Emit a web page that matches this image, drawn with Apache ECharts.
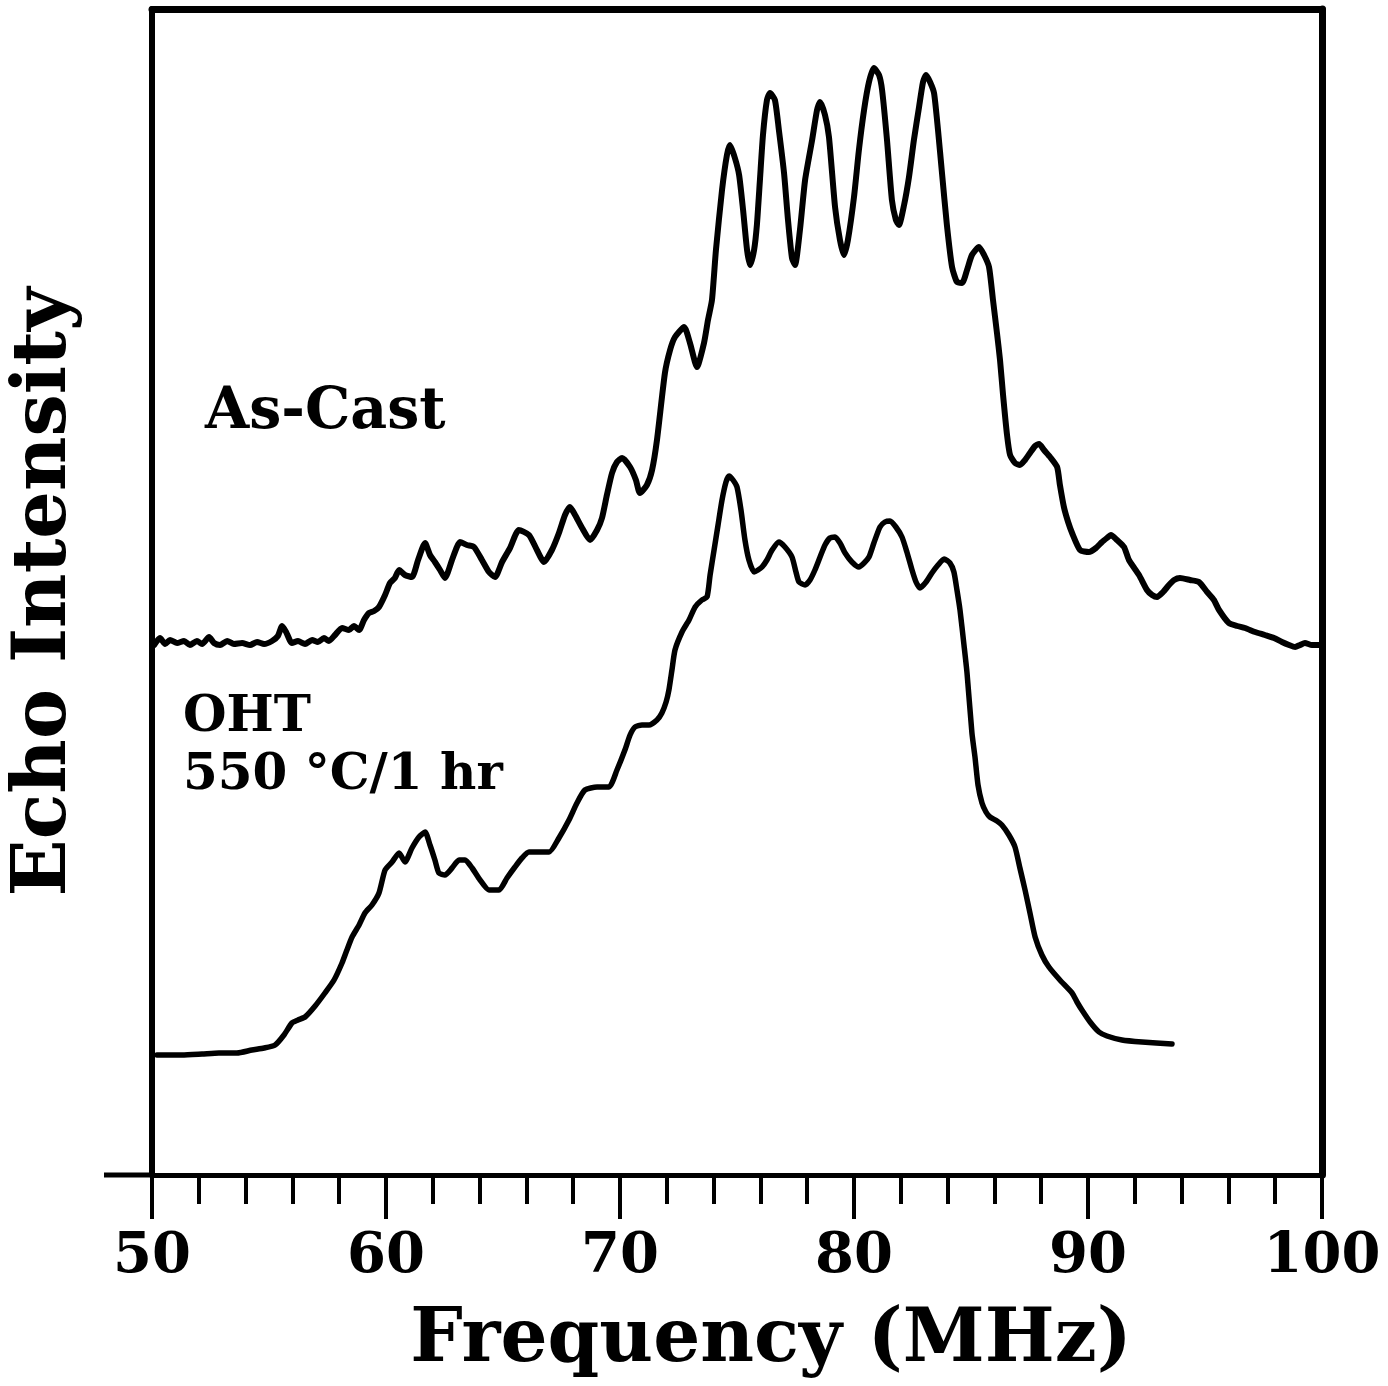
<!DOCTYPE html>
<html>
<head>
<meta charset="utf-8">
<script src="https://cdn.jsdelivr.net/npm/echarts@6/dist/echarts.min.js"></script>
<style>
html,body{margin:0;padding:0;background:#fff;}
#chart{width:1388px;height:1386px;}
</style>
</head>
<body>
<div id="chart"></div>
<script>
// Frequency in MHz, intensity in arbitrary units (axis from 0 at the bottom frame)
const asCastFreq = [50.09,50.34,50.56,50.77,51.07,51.37,51.62,51.92,52.14,52.44,52.65,52.91,53.21,53.50,53.85,54.19,54.49,54.79,55.13,55.38,55.56,55.73,55.98,56.24,56.54,56.84,57.09,57.35,57.56,57.82,58.12,58.42,58.63,58.85,59.06,59.27,59.49,59.70,59.96,60.17,60.38,60.56,60.81,61.11,61.37,61.67,61.88,62.09,62.31,62.52,62.82,63.03,63.16,63.46,63.76,64.10,64.40,64.66,64.96,65.30,65.68,66.11,66.45,66.75,67.09,67.39,67.65,67.86,68.08,68.38,68.72,69.02,69.23,69.44,69.66,69.87,70.09,70.43,70.68,70.85,71.15,71.37,71.58,71.92,72.14,72.35,72.74,72.99,73.29,73.59,73.76,73.93,74.10,74.36,74.57,74.70,74.91,75.09,75.26,75.43,75.56,75.73,75.85,75.98,76.11,76.28,76.41,76.62,76.79,77.01,77.18,77.35,77.48,77.69,77.91,78.21,78.42,78.55,78.76,78.93,79.19,79.40,79.57,79.74,80.00,80.21,80.43,80.64,80.85,81.07,81.20,81.41,81.62,81.79,81.92,82.14,82.35,82.56,82.78,82.95,83.08,83.25,83.42,83.59,83.76,83.97,84.19,84.40,84.62,84.83,85.04,85.34,85.56,85.77,85.94,86.11,86.24,86.37,86.54,86.67,86.88,87.09,87.31,87.52,87.74,87.91,88.12,88.38,88.68,88.80,88.97,89.15,89.32,89.66,90.04,90.34,90.60,90.81,90.98,91.24,91.54,91.75,92.18,92.52,92.74,92.95,93.21,93.46,93.68,93.93,94.36,94.74,95.09,95.38,95.60,96.02,96.37,96.71,97.14,97.56,97.95,98.29,98.59,98.85,99.06,99.27,99.57,99.91];
const asCastIntensity = [530,537,531,535,532,534,530,534,531,538,532,530,534,531,532,530,533,531,534,539,549,543,532,534,531,535,533,537,534,540,547,545,549,545,555,562,564,568,580,592,597,605,600,598,615,632,620,613,605,597,615,628,633,630,628,615,603,598,613,627,645,640,625,613,625,642,660,668,660,647,635,645,657,680,702,713,717,708,695,682,690,705,735,802,825,838,848,832,808,832,855,875,925,985,1020,1030,1017,1000,965,925,910,925,950,995,1040,1075,1082,1075,1045,1002,955,917,910,945,995,1035,1065,1073,1060,1038,968,935,920,935,978,1025,1065,1093,1107,1100,1085,1035,975,955,950,970,998,1035,1068,1093,1100,1093,1082,1045,1002,950,908,893,892,905,920,928,920,908,875,842,815,780,740,720,712,710,715,722,729,731,725,718,708,690,668,653,642,625,623,627,633,637,640,635,628,615,600,585,580,578,583,590,595,597,595,593,583,575,565,552,549,547,543,540,537,533,530,528,530,532,530,530];

const ohtFreq = [50.21,51.28,52.14,52.86,53.63,54.27,54.79,55.26,55.64,55.98,56.24,56.54,56.97,57.39,57.78,58.12,58.33,58.55,58.85,59.10,59.40,59.70,59.96,60.26,60.56,60.81,61.11,61.41,61.67,61.88,62.09,62.26,62.52,62.82,63.12,63.38,63.68,64.02,64.40,64.83,65.17,65.51,65.81,66.11,66.54,66.97,67.39,67.82,68.16,68.50,69.02,69.53,69.87,70.21,70.43,70.64,70.94,71.24,71.58,71.79,71.97,72.09,72.22,72.35,72.65,72.95,73.21,73.50,73.72,73.85,74.02,74.19,74.36,74.53,74.66,74.83,75.00,75.17,75.34,75.51,75.73,75.90,76.07,76.28,76.50,76.79,77.05,77.35,77.52,77.65,77.91,78.12,78.33,78.55,78.76,78.97,79.19,79.40,79.62,79.91,80.21,80.43,80.64,80.85,81.11,81.32,81.54,81.79,82.05,82.26,82.48,82.65,82.82,83.08,83.33,83.59,83.85,84.10,84.27,84.40,84.53,84.70,84.83,85.04,85.17,85.30,85.47,85.64,85.81,86.11,86.32,86.62,86.88,87.09,87.31,87.52,87.74,88.03,88.33,88.80,89.32,89.53,89.74,90.09,90.47,90.81,91.45,92.31,93.59];
const ohtIntensity = [120,120,121,122,122,125,127,130,140,152,155,158,169,182,195,212,225,238,250,262,270,282,305,313,322,313,327,338,343,330,315,302,300,307,315,315,307,295,285,285,297,308,317,323,323,323,337,355,372,385,388,388,405,425,440,448,450,450,455,462,473,485,505,525,543,555,568,575,578,600,625,650,675,693,699,695,688,665,635,615,603,605,608,615,625,633,628,618,603,593,590,595,605,618,630,637,638,632,622,613,608,612,618,632,648,653,654,648,638,623,605,593,587,593,602,610,616,612,603,585,565,530,502,442,418,390,372,363,358,354,350,340,328,307,285,262,238,220,208,195,182,173,165,153,143,139,135,133,131];

const xMin = 50, xMax = 100, xMajor = 10, xMinor = 2;
const tickLabels = ['50','60','70','80','90','100'];
const seriesNames = ['As-Cast', 'OHT 550 °C/1 hr'];

const FONT = '"DejaVu Serif", serif';
const chart = echarts.init(document.getElementById('chart'), null, {renderer: 'canvas'});

function majorLabel(v) {
  const k = (v - xMin) / xMajor;
  const i = Math.round(k);
  return Math.abs(k - i) < 1e-6 && tickLabels[i] !== undefined ? tickLabels[i] : '';
}

const option = {
  animation: false,
  backgroundColor: '#ffffff',
  grid: {left: 152, right: 66, top: 9, bottom: 211, containLabel: false, outerBoundsMode: 'none'},
  xAxis: [{
    // bottom axis: short ticks every 2 MHz, labels every 10 MHz
    type: 'value', min: xMin, max: xMax, interval: xMinor, position: 'bottom',
    axisLine: {show: true, onZero: false, lineStyle: {color: '#000', width: 5}},
    axisTick: {show: true, inside: false, length: 29, lineStyle: {color: '#000', width: 4}},
    splitLine: {show: false},
    axisLabel: {
      show: true, margin: 54, color: '#000', interval: 0, hideOverlap: false,
      fontFamily: FONT, fontWeight: 'bold', fontSize: 56,
      formatter: majorLabel
    },
    name: 'Frequency (MHz)', nameLocation: 'middle', nameGap: 130,
    nameTextStyle: {color: '#000', fontFamily: FONT, fontWeight: 'bold', fontSize: 74, padding: [0, 0, 0, 68]}
  }, {
    // long major ticks every 10 MHz on the bottom axis
    type: 'value', min: xMin, max: xMax, interval: xMajor, position: 'bottom',
    axisLine: {show: false, onZero: false},
    axisTick: {show: true, inside: false, length: 44, lineStyle: {color: '#000', width: 4}},
    axisLabel: {show: false}, splitLine: {show: false}
  }, {
    // top frame
    type: 'value', min: xMin, max: xMax, position: 'top',
    axisLine: {show: true, onZero: false, lineStyle: {color: '#000', width: 7}},
    axisTick: {show: false}, axisLabel: {show: false}, splitLine: {show: false}
  }],
  yAxis: [{
    type: 'value', min: 0, max: 1166, position: 'left',
    axisLine: {show: true, onZero: false, lineStyle: {color: '#000', width: 6}},
    axisTick: {show: false}, axisLabel: {show: false}, splitLine: {show: false},
    name: 'Echo Intensity', nameLocation: 'middle', nameGap: 69,
    nameTextStyle: {color: '#000', fontFamily: FONT, fontWeight: 'bold', fontSize: 75}
  }, {
    type: 'value', min: 0, max: 1166, position: 'right',
    axisLine: {show: true, onZero: false, lineStyle: {color: '#000', width: 7}},
    axisTick: {show: false}, axisLabel: {show: false}, splitLine: {show: false}
  }],
  series: [{
    name: seriesNames[0], type: 'line', xAxisIndex: 0, yAxisIndex: 0,
    data: asCastFreq.map((f, i) => [f, asCastIntensity[i]]),
    showSymbol: false, symbol: 'none', smooth: 0.2,
    lineStyle: {color: '#000', width: 6, join: 'round', cap: 'round'}
  }, {
    name: seriesNames[1], type: 'line', xAxisIndex: 1, yAxisIndex: 0,
    data: ohtFreq.map((f, i) => [f, ohtIntensity[i]]),
    showSymbol: false, symbol: 'none', smooth: 0.2,
    lineStyle: {color: '#000', width: 5.5, join: 'round', cap: 'round'}
  }],
  graphic: [
    {type: 'line', shape: {x1: 104, y1: 1175, x2: 153, y2: 1175}, style: {stroke: '#000', lineWidth: 5}},
    {type: 'text', x: 205, y: 413, style: {text: 'As-Cast', fill: '#000', font: 'bold 57px ' + FONT, textAlign: 'left', textVerticalAlign: 'middle', align: 'left', verticalAlign: 'middle'}},
    {type: 'text', x: 183, y: 718, style: {text: 'OHT', fill: '#000', font: 'bold 50px ' + FONT, textAlign: 'left', textVerticalAlign: 'middle', align: 'left', verticalAlign: 'middle'}},
    {type: 'text', x: 183, y: 776, style: {text: '550 °C/1 hr', fill: '#000', font: 'bold 50px ' + FONT, textAlign: 'left', textVerticalAlign: 'middle', align: 'left', verticalAlign: 'middle'}}
  ]
};
chart.setOption(option);
</script>
</body>
</html>
